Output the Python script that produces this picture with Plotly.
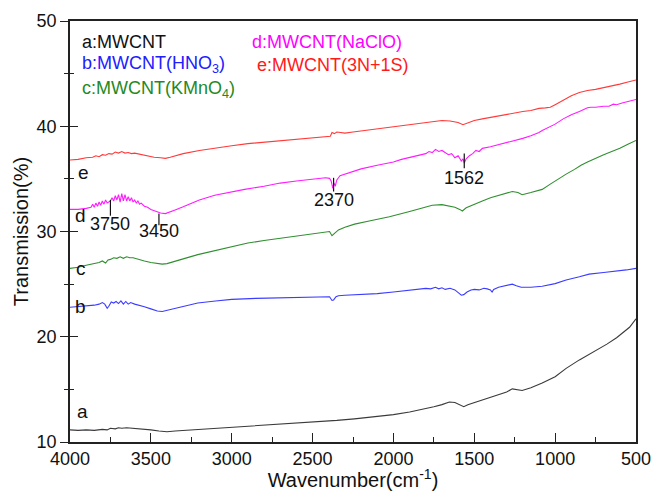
import plotly.graph_objects as go

# ---- FTIR spectra (wavenumber in cm^-1, transmission in %) ----
wn_a = [4000, 3950, 3900, 3850, 3800, 3770, 3750, 3720, 3700, 3680, 3650, 3600, 3550, 3500,
        3450, 3400, 3350, 3300, 3210, 3100, 3000, 2900, 2800, 2693, 2600, 2500, 2426, 2350,
        2241, 2100, 2000, 1900, 1800, 1750, 1700, 1654, 1620, 1590, 1565, 1540, 1490, 1420,
        1346, 1300, 1265, 1230, 1204, 1150, 1080, 1000, 932, 850, 747, 680, 620, 586, 540, 500]
t_a = [11.15, 11.1, 11.15, 11.1, 11.2, 11.15, 11.3, 11.25, 11.35, 11.3, 11.35, 11.3, 11.2, 11.15,
       11.05, 10.98, 11.05, 11.1, 11.2, 11.3, 11.36, 11.45, 11.55, 11.68, 11.75, 11.85, 11.93, 12.05,
       12.2, 12.4, 12.6, 12.85, 13.15, 13.35, 13.55, 13.8, 13.75, 13.5, 13.35, 13.55, 13.8, 14.1,
       14.45, 14.75, 15.05, 15.0, 14.9, 15.15, 15.6, 16.2, 17.0, 17.8, 18.7, 19.3, 19.9, 20.3, 20.9, 21.7]

wn_b = [4000, 3950, 3900, 3850, 3820, 3800, 3785, 3770, 3760, 3745, 3730, 3715, 3700, 3685,
        3670, 3655, 3640, 3625, 3600, 3570, 3540, 3500, 3460, 3430, 3400, 3350, 3300, 3210,
        3100, 3000, 2850, 2700, 2550, 2420, 2395, 2380, 2370, 2355, 2340, 2300, 2200, 2100,
        2000, 1900, 1800, 1770, 1740, 1720, 1700, 1680, 1650, 1620, 1600, 1580, 1565, 1545,
        1520, 1500, 1470, 1440, 1420, 1400, 1390, 1380, 1350, 1300, 1265, 1240, 1210, 1150,
        1080, 1000, 932, 850, 790, 700, 624, 560, 500]
t_b = [22.8, 22.85, 22.9, 23.0, 23.1, 23.25, 23.1, 22.7, 22.9, 23.3, 23.2, 23.35, 23.15, 23.4,
       23.1, 23.35, 23.1, 23.25, 23.1, 23.0, 22.85, 22.65, 22.45, 22.4, 22.5, 22.7, 22.9, 23.2,
       23.4, 23.55, 23.65, 23.7, 23.75, 23.8, 23.8, 23.45, 23.5, 23.8, 23.9, 23.95, 24.0, 24.1,
       24.25, 24.4, 24.6, 24.55, 24.7, 24.55, 24.65, 24.5, 24.6, 24.45, 24.2, 23.95, 24.0, 24.25,
       24.45, 24.5, 24.45, 24.6, 24.55, 24.45, 24.25, 24.5, 24.7, 24.85, 25.0, 24.85, 24.7, 24.7,
       24.8, 25.05, 25.4, 25.7, 25.95, 26.1, 26.2, 26.35, 26.5]

wn_c = [4000, 3950, 3900, 3850, 3820, 3800, 3780, 3765, 3750, 3730, 3710, 3690, 3670, 3650,
        3630, 3610, 3580, 3540, 3500, 3460, 3430, 3400, 3350, 3300, 3210, 3100, 3000, 2900,
        2800, 2700, 2600, 2500, 2420, 2395, 2380, 2370, 2360, 2340, 2300, 2240, 2150, 2025,
        1900, 1800, 1760, 1700, 1654, 1620, 1590, 1574, 1550, 1500, 1450, 1400, 1330, 1265,
        1230, 1204, 1150, 1080, 1030, 980, 932, 880, 840, 800, 747, 700, 650, 600, 550, 500]
t_c = [26.5, 26.6, 26.8, 26.95, 27.05, 27.2, 27.0, 27.3, 27.35, 27.5, 27.45, 27.6, 27.45, 27.6,
       27.5, 27.5, 27.4, 27.2, 27.05, 26.95, 26.9, 26.95, 27.2, 27.4, 27.8, 28.2, 28.6, 28.9,
       29.15, 29.35, 29.6, 29.8, 29.95, 30.0, 29.6, 29.75, 29.9, 30.15, 30.4, 30.7, 31.0, 31.4,
       31.9, 32.35, 32.5, 32.55, 32.4, 32.3, 32.1, 31.95, 32.25, 32.6, 32.9, 33.2, 33.5, 33.8,
       33.7, 33.5, 33.7, 34.0, 34.5, 35.0, 35.45, 35.9, 36.3, 36.6, 37.0, 37.3, 37.6, 37.9, 38.3, 38.65]

wn_d = [4000, 3950, 3900, 3870, 3860, 3850, 3840, 3830, 3820, 3810, 3800, 3790, 3780, 3770,
        3750, 3740, 3730, 3720, 3710, 3700, 3690, 3680, 3670, 3660, 3650, 3640, 3630, 3620,
        3610, 3600, 3590, 3580, 3570, 3560, 3540, 3520, 3500, 3470, 3440, 3410, 3380, 3350,
        3300, 3200, 3105, 3000, 2920, 2800, 2700, 2600, 2500, 2420, 2395, 2385, 2375, 2368,
        2360, 2350, 2330, 2300, 2250, 2200, 2100, 2000, 1950, 1900, 1850, 1800, 1780, 1760,
        1740, 1720, 1700, 1680, 1660, 1640, 1620, 1600, 1580, 1570, 1562, 1550, 1530, 1510,
        1490, 1470, 1450, 1400, 1364, 1300, 1250, 1200, 1150, 1100, 1080, 1000, 950, 900,
        850, 800, 780, 750, 700, 667, 640, 620, 586, 560, 530, 500]
t_d = [32.1, 32.1, 32.2, 32.3, 32.6, 32.3, 32.7, 32.4, 32.8, 32.5, 32.9, 32.6, 33.0, 32.7,
       32.9, 33.2, 32.9, 33.4, 33.0, 33.5, 32.8, 33.6, 32.9, 33.5, 32.9, 33.3, 32.9, 33.2,
       32.8, 33.0, 32.7, 32.9, 32.6, 32.7, 32.4, 32.3, 32.1, 31.9, 31.75, 31.7, 31.85, 32.05,
       32.35, 33.0, 33.45, 33.8, 34.0, 34.3, 34.6, 34.8, 34.95, 35.1, 35.05, 34.8, 34.1, 34.6,
       34.3, 34.9, 35.3, 35.45, 35.7, 35.95, 36.3, 36.6, 36.85, 37.05, 37.2, 37.4, 37.6, 37.5,
       37.8, 37.6, 37.7, 37.5, 37.3, 37.4, 37.0, 37.2, 36.7, 36.9, 36.5, 36.9, 37.2, 37.4,
       37.7, 37.6, 37.9, 38.05, 38.2, 38.4, 38.65, 38.85, 39.1, 39.4, 39.6, 40.2, 40.7, 41.1,
       41.4, 41.75, 41.8, 41.8, 41.9, 41.9, 42.1, 42.05, 42.2, 42.3, 42.4, 42.55]

wn_e = [4000, 3950, 3900, 3860, 3840, 3820, 3800, 3780, 3760, 3740, 3720, 3700, 3680, 3660,
        3640, 3620, 3600, 3560, 3520, 3480, 3440, 3410, 3380, 3340, 3300, 3200, 3100, 3000,
        2900, 2800, 2700, 2600, 2500, 2420, 2390, 2380, 2365, 2350, 2300, 2250, 2200, 2100,
        2000, 1900, 1800, 1700, 1650, 1600, 1570, 1540, 1500, 1450, 1400, 1300, 1200, 1150,
        1100, 1060, 1030, 1000, 950, 900, 850, 800, 750, 700, 650, 600, 550, 500]
t_e = [36.8, 36.85, 37.0, 37.05, 37.2, 37.1, 37.3, 37.25, 37.4, 37.35, 37.55, 37.45, 37.6, 37.45,
       37.5, 37.4, 37.45, 37.3, 37.15, 37.05, 37.0, 36.95, 37.05, 37.2, 37.4, 37.7, 37.95, 38.15,
       38.35, 38.5, 38.65, 38.8, 38.95, 39.05, 39.05, 39.4, 39.3, 39.45, 39.35, 39.45, 39.55, 39.7,
       39.9, 40.1, 40.35, 40.55, 40.5, 40.35, 40.15, 40.35, 40.55, 40.7, 40.85, 41.1, 41.4, 41.5,
       41.7, 41.75, 41.8, 42.05, 42.5, 42.9, 43.2, 43.4, 43.5, 43.65, 43.8, 44.0, 44.2, 44.4]

series = [
    ("a", wn_a, t_a, "#3a3a3a"),
    ("b", wn_b, t_b, "#3c3cff"),
    ("c", wn_c, t_c, "#2f8f2f"),
    ("d", wn_d, t_d, "#ff1cff"),
    ("e", wn_e, t_e, "#ff3a3a"),
]

# sample names (legend block) and where each is written
legend_names = ["a:MWCNT", "b:MWCNT(HNO<sub>3</sub>)", "c:MWCNT(KMnO<sub>4</sub>)",
                "d:MWCNT(NaClO)", "e:MWCNT(3N+1S)"]
legend_colors = ["#111111", "#2020ff", "#1f8a1f", "#ff00ff", "#ff1a1a"]
legend_x = [3938, 3938, 3938, 2885, 2855]
legend_y = [48.0, 45.85, 43.5, 48.0, 45.85]

# curve letters next to the start of each spectrum
curve_letters = ["a", "b", "c", "d", "e"]
letter_x = [3925, 3935, 3935, 3935, 3915]
letter_y = [12.9, 22.85, 26.45, 31.5, 35.6]

# marked absorption bands: wavenumber, tick bottom/top, label height
peak_wn = [3750, 3450, 2370, 1562]
peak_y0 = [31.5, 30.6, 33.8, 36.0]
peak_y1 = [33.0, 31.7, 35.1, 37.4]
peak_label_y = [30.75, 30.05, 33.0, 35.1]

FONT = "Arial, 'Liberation Sans', sans-serif"

fig = go.Figure()
for name, x, y, col in series:
    fig.add_trace(go.Scatter(x=x, y=y, mode="lines", name=name,
                             line=dict(color=col, width=1.1), showlegend=False,
                             hoverinfo="skip"))

# helper trace so the inner-tick y axis is drawn
fig.add_trace(go.Scatter(x=[4000], y=[10], yaxis="y2", mode="markers",
                         marker=dict(opacity=0), showlegend=False, hoverinfo="skip"))

for txt, col, x, y in zip(legend_names, legend_colors, legend_x, legend_y):
    fig.add_annotation(x=x, y=y, text=txt, showarrow=False, xanchor="left",
                       yanchor="middle", font=dict(family=FONT, size=18, color=col))

for txt, x, y in zip(curve_letters, letter_x, letter_y):
    fig.add_annotation(x=x, y=y, text=txt, showarrow=False, xanchor="center",
                       yanchor="middle", font=dict(family=FONT, size=19, color="#111111"))

for w, y0, y1, ly in zip(peak_wn, peak_y0, peak_y1, peak_label_y):
    fig.add_shape(type="line", x0=w, x1=w, y0=y0, y1=y1, xref="x", yref="y",
                  line=dict(color="#111111", width=1.2))
    fig.add_annotation(x=w, y=ly, text=str(w), showarrow=False, xanchor="center",
                       yanchor="middle", font=dict(family=FONT, size=18, color="#111111"))

fig.update_layout(
    width=656, height=491,
    margin=dict(l=70, r=20, t=21, b=49, autoexpand=False),
    paper_bgcolor="white", plot_bgcolor="white",
    font=dict(family=FONT, size=18, color="#111111"),
    xaxis=dict(
        range=[4000, 500], tickvals=[4000, 3500, 3000, 2500, 2000, 1500, 1000, 500],
        ticks="inside", ticklen=9, tickwidth=1.3, tickcolor="#222222",
        minor=dict(dtick=250, tick0=500, ticks="inside", ticklen=5, tickwidth=1.3,
                   tickcolor="#222222"),
        showline=True, linecolor="#222222", linewidth=1.5, mirror=True,
        showgrid=False, zeroline=False,
        tickfont=dict(family=FONT, size=18, color="#111111"),
        title=dict(text="Wavenumber(cm<sup>-1</sup>)", standoff=6,
                   font=dict(family=FONT, size=20, color="#111111")),
    ),
    yaxis=dict(
        range=[10, 50], dtick=10, tick0=10,
        ticks="outside", ticklen=8, tickwidth=1.3, tickcolor="#222222",
        minor=dict(dtick=5, tick0=10, ticks="outside", ticklen=4, tickwidth=1.3,
                   tickcolor="#222222"),
        showline=True, linecolor="#222222", linewidth=1.5, mirror=True,
        showgrid=False, zeroline=False,
        tickfont=dict(family=FONT, size=18, color="#111111"),
        title=dict(text="Transmission(%)", standoff=3,
                   font=dict(family=FONT, size=20, color="#111111")),
    ),
    yaxis2=dict(
        range=[10, 50], dtick=10, tick0=10, overlaying="y", side="left",
        ticks="inside", ticklen=8, tickwidth=1.3, tickcolor="#222222",
        minor=dict(dtick=5, tick0=10, ticks="inside", ticklen=4, tickwidth=1.3,
                   tickcolor="#222222"),
        showticklabels=False, showline=False, showgrid=False, zeroline=False,
    ),
)

fig.write_html("out.html")
